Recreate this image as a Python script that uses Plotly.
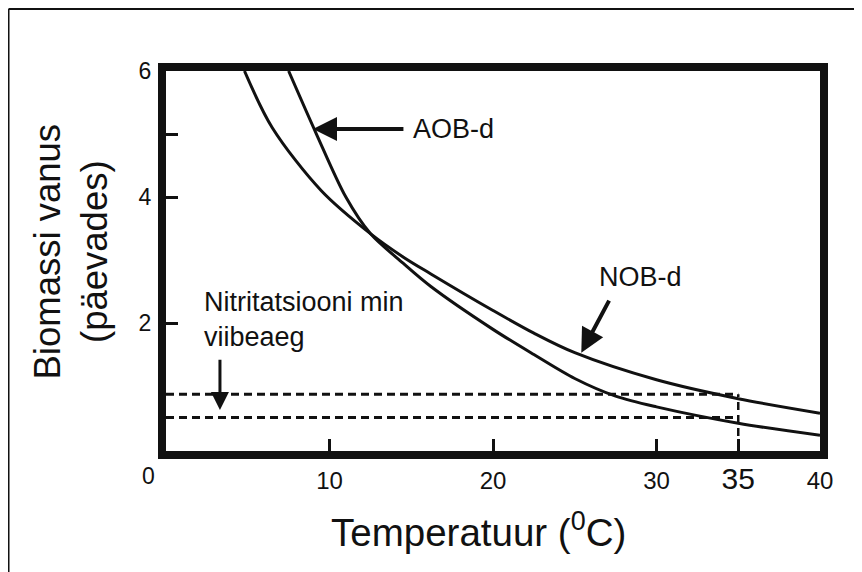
import plotly.graph_objects as go

# ---- data ----
nob_temp = [4.8, 6.5, 9.5, 12.5, 14.5, 16.2, 20, 22.5, 25, 30, 35, 40]
nob_age = [6.0, 5.1, 4.1, 3.42, 3.05, 2.78, 2.2, 1.84, 1.53, 1.10, 0.80, 0.57]

aob_temp = [7.5, 9.2, 11.0, 12.5, 14.5, 16.2, 20, 22.5, 25, 27.5, 30, 35, 40]
aob_age = [6.0, 5.0, 4.0, 3.42, 2.95, 2.58, 1.9, 1.5, 1.12, 0.84, 0.67, 0.41, 0.22]

min_time_upper = 0.87
min_time_lower = 0.50
dash_end_temp = 35

x_tick_vals = [10, 20, 30, 35, 40]
x_tick_text = ["10", "20", "30", "<span style='font-size:30px'>35</span>", "40"]
y_tick_vals = [2, 4, 6]
y_tick_text = ["2", "4", "6"]
y_minor_vals = [5]

FONT = "Liberation Sans, Arial, Helvetica, sans-serif"
INK = "#111111"
LABEL_SIZE = 27

fig = go.Figure()

fig.add_trace(go.Scatter(x=nob_temp, y=nob_age, mode="lines",
                         line=dict(color=INK, width=3, shape="spline", smoothing=0.9),
                         name="NOB-d", hoverinfo="skip"))
fig.add_trace(go.Scatter(x=aob_temp, y=aob_age, mode="lines",
                         line=dict(color=INK, width=3, shape="spline", smoothing=0.9),
                         name="AOB-d", hoverinfo="skip"))

for yv in (min_time_upper, min_time_lower):
    fig.add_trace(go.Scatter(x=[0, dash_end_temp], y=[yv, yv], mode="lines",
                             line=dict(color=INK, width=3, dash="8px,5px"),
                             hoverinfo="skip"))
fig.add_trace(go.Scatter(x=[dash_end_temp, dash_end_temp], y=[0, min_time_upper], mode="lines",
                         line=dict(color=INK, width=2.5, dash="8px,5px"),
                         hoverinfo="skip"))

annotations = [
    # AOB-d label with its arrow (arrow starts at the label box edge)
    dict(x=8.99, y=5.08, ax=17.58, ay=5.08, xref="x", yref="y", axref="x", ayref="y",
         text="AOB-d", showarrow=True, arrowhead=2, arrowsize=1.2, arrowwidth=4,
         arrowcolor=INK, xanchor="center", yanchor="middle", borderpad=9,
         font=dict(family=FONT, size=LABEL_SIZE, color=INK)),
    # NOB-d arrow and label
    dict(x=25.4, y=1.53, ax=27.15, ay=2.38, xref="x", yref="y", axref="x", ayref="y",
         text="", showarrow=True, arrowhead=2, arrowsize=1.2, arrowwidth=4, arrowcolor=INK),
    dict(x=29.05, y=2.73, xref="x", yref="y", text="NOB-d", showarrow=False,
         xanchor="center", yanchor="middle", font=dict(family=FONT, size=LABEL_SIZE, color=INK)),
    # minimum retention time label and arrow
    dict(x=3.3, y=0.62, ax=3.3, ay=1.44, xref="x", yref="y", axref="x", ayref="y",
         text="", showarrow=True, arrowhead=2, arrowsize=1.2, arrowwidth=3, arrowcolor=INK),
    dict(x=2.2, y=2.06, xref="x", yref="y", text="Nitritatsiooni min<br>viibeaeg",
         showarrow=False, xanchor="left", yanchor="middle", align="left",
         font=dict(family=FONT, size=LABEL_SIZE, color=INK)),
    # zero label at the corner
    dict(x=0, y=0, xref="x", yref="paper", text="0", showarrow=False,
         xanchor="center", yanchor="top", xshift=-18, yshift=-10,
         font=dict(family=FONT, size=23, color=INK)),
    # axis titles
    dict(x=-0.146, y=0.5237, xref="paper", yref="paper",
         text="Biomassi vanus<br>(päevades)", textangle=-90, showarrow=False,
         xanchor="center", yanchor="middle", align="center",
         font=dict(family=FONT, size=36.5, color=INK)),
    dict(x=0.4778, y=-0.2079, xref="paper", yref="paper",
         text="Temperatuur (<sup>0</sup>C)", showarrow=False,
         xanchor="center", yanchor="middle",
         font=dict(family=FONT, size=38.5, color=INK)),
]

# thin outer border (top and left edges of the picture)
shapes = [
    dict(type="line", xref="paper", yref="paper", x0=-0.2408, x1=1.2, y0=1.163, y1=1.163,
         line=dict(color=INK, width=2)),
    dict(type="line", xref="paper", yref="paper", x0=-0.2408, x1=-0.2408, y0=-0.4, y1=1.163,
         line=dict(color=INK, width=2)),
]

fig.update_layout(
    width=862, height=572,
    # the page body adds an 8px offset, margins compensate for it
    margin=dict(l=158, r=50, t=63, b=129),
    paper_bgcolor="white", plot_bgcolor="white",
    showlegend=False,
    font=dict(family=FONT, color=INK),
    annotations=annotations,
    shapes=shapes,
    xaxis=dict(range=[0, 40], showgrid=False, zeroline=False,
               showline=True, linewidth=8, linecolor=INK, mirror=True,
               ticks="inside", ticklen=12, tickwidth=3, tickcolor=INK,
               tickvals=x_tick_vals, ticktext=x_tick_text,
               tickfont=dict(family=FONT, size=24, color=INK),
               ticklabelstandoff=1),
    yaxis=dict(range=[-0.03, 6.0], showgrid=False, zeroline=False,
               showline=True, linewidth=8, linecolor=INK, mirror=True,
               ticks="inside", ticklen=12, tickwidth=3, tickcolor=INK,
               tickvals=y_tick_vals, ticktext=y_tick_text,
               tickfont=dict(family=FONT, size=23, color=INK),
               ticklabelstandoff=2,
               minor=dict(tickvals=y_minor_vals, ticks="inside", ticklen=12,
                          tickwidth=3, tickcolor=INK, showgrid=False)),
)

fig.write_html("out.html")
